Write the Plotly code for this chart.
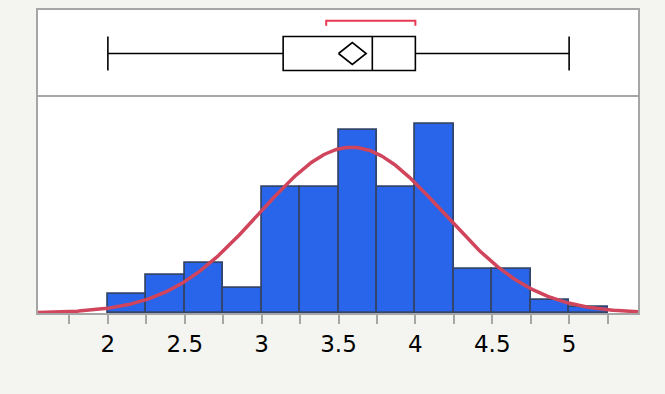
import numpy as np
import plotly.graph_objects as go

# ---------------- data ----------------
bin_starts = [2.0, 2.25, 2.5, 2.75, 3.0, 3.25, 3.5, 3.75, 4.0, 4.25, 4.5, 4.75, 5.0]
counts = [3, 6, 8, 4, 20, 20, 29, 20, 30, 7, 7, 2, 1]
bin_width = 0.25

box_min = [2.0]
box_q1 = [3.14]
box_median = [3.72]
box_q3 = [4.0]
box_max = [5.0]
mean_value = 3.59
shortest_half = [3.42, 4.0]

fit_mean = 3.585
fit_sd = 0.595

tick_values = [1.75, 2.0, 2.25, 2.5, 2.75, 3.0, 3.25, 3.5, 3.75, 4.0, 4.25, 4.5, 4.75, 5.0, 5.25]
tick_labels = ["", "2", "", "2.5", "", "3", "", "3.5", "", "4", "", "4.5", "", "5", ""]

# ---------------- styles ----------------
X_RANGE = [1.5455, 5.448]
Y_HIST_RANGE = [0, 34.3]
Y_BOX_RANGE = [-1, 1]
SPLIT = 0.7129
BORDER = "#a6a6a6"
BAR_FILL = "#2865ea"
BAR_LINE = "#34456c"
CURVE = "#d0445c"
BRACKET = "#e83a52"
BG = "#f4f5f0"
FONT = "DejaVu Sans"

n_total = sum(counts)
xs = np.linspace(X_RANGE[0], X_RANGE[1], 400)
fit_y = n_total * bin_width * np.exp(-0.5 * ((xs - fit_mean) / fit_sd) ** 2) / (fit_sd * np.sqrt(2 * np.pi))

fig = go.Figure()

fig.add_trace(go.Bar(
    x=bin_starts, y=counts, width=bin_width, offset=0,
    marker=dict(color=BAR_FILL, line=dict(color=BAR_LINE, width=1.8)),
    xaxis="x", yaxis="y", showlegend=False, hoverinfo="skip",
))
fig.add_trace(go.Scatter(
    x=xs, y=fit_y, mode="lines", line=dict(color=CURVE, width=3.5),
    xaxis="x", yaxis="y", showlegend=False, hoverinfo="skip",
))

# box plot panel
fig.add_trace(go.Box(
    y=[0], q1=box_q1, median=box_median, q3=box_q3,
    lowerfence=box_min, upperfence=box_max,
    orientation="h", width=0.78, whiskerwidth=1,
    fillcolor="white", line=dict(color="black", width=1.6),
    boxpoints=False, xaxis="x2", yaxis="y2", showlegend=False, hoverinfo="skip",
))
dx, dy = 0.09, 0.25
fig.add_trace(go.Scatter(
    x=[mean_value - dx, mean_value, mean_value + dx, mean_value, mean_value - dx],
    y=[0, dy, 0, -dy, 0], mode="lines", line=dict(color="black", width=1.6),
    xaxis="x2", yaxis="y2", showlegend=False, hoverinfo="skip",
))
fig.add_trace(go.Scatter(
    x=[shortest_half[0], shortest_half[0], shortest_half[1], shortest_half[1]],
    y=[0.64, 0.755, 0.755, 0.64], mode="lines", line=dict(color=BRACKET, width=2),
    xaxis="x2", yaxis="y2", showlegend=False, hoverinfo="skip",
))

axis_common = dict(showline=True, linecolor=BORDER, linewidth=2,
                   showgrid=False, zeroline=False)

fig.update_layout(
    width=665, height=394,
    margin=dict(l=38, r=27, t=10, b=81),
    paper_bgcolor=BG, plot_bgcolor="white",
    xaxis=dict(domain=[0, 1], range=X_RANGE, anchor="y", mirror=True,
               tickvals=tick_values, ticktext=tick_labels,
               ticks="outside", ticklen=9, tickwidth=1.5, tickcolor=BORDER,
               tickfont=dict(family=FONT, size=23, color="black"),
               **axis_common),
    yaxis=dict(domain=[0, SPLIT], range=Y_HIST_RANGE, anchor="x", mirror=True,
               showticklabels=False, ticks="", **axis_common),
    xaxis2=dict(domain=[0, 1], range=X_RANGE, anchor="y2", matches="x", side="top",
                mirror=False, showticklabels=False, ticks="", **axis_common),
    yaxis2=dict(domain=[SPLIT, 1], range=Y_BOX_RANGE, anchor="x2", mirror=True,
                showticklabels=False, ticks="", **axis_common),
    bargap=0,
)

fig.write_html("out.html")
